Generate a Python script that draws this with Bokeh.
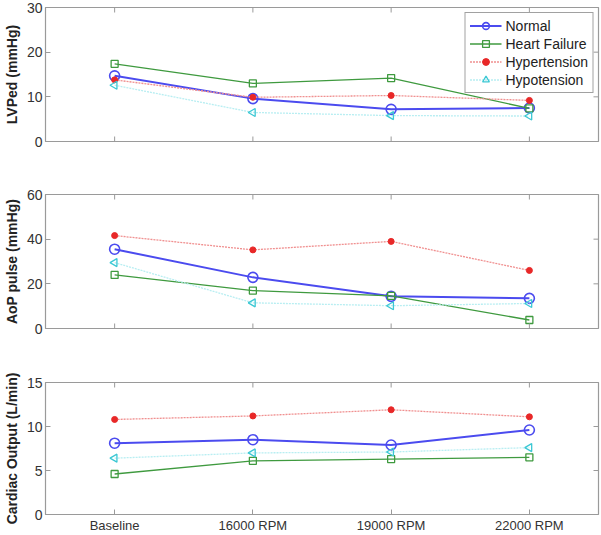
from bokeh.plotting import figure
from bokeh.models import (FactorRange, Range1d, CategoricalAxis, LinearAxis, FixedTicker,
                          Legend, LegendItem, ColumnDataSource)
from bokeh.transform import dodge
from bokeh.layouts import column
from bokeh.embed import file_html
from bokeh.resources import INLINE
import math

categories = ["Baseline", "16000 RPM", "19000 RPM", "22000 RPM"]
series_names = ["Normal", "Heart Failure", "Hypertension", "Hypotension"]

lvped_normal = [14.7, 9.6, 7.2, 7.5]
lvped_hf = [17.4, 13.0, 14.2, 7.4]
lvped_hyper = [13.8, 9.9, 10.3, 9.2]
lvped_hypo = [12.6, 6.5, 5.8, 5.7]

aop_normal = [35.5, 22.9, 14.4, 13.5]
aop_hf = [24.0, 17.0, 14.6, 3.8]
aop_hyper = [41.6, 35.2, 39.0, 26.0]
aop_hypo = [29.5, 11.5, 10.2, 11.2]

co_normal = [8.1, 8.5, 7.9, 9.6]
co_hf = [4.6, 6.1, 6.3, 6.5]
co_hyper = [10.8, 11.2, 11.9, 11.1]
co_hypo = [6.4, 7.0, 7.1, 7.6]

lvped_ticks = [0, 10, 20, 30]
aop_ticks = [0, 20, 40, 60]
co_ticks = [0, 5, 10, 15]

FONT = "Liberation Sans"
BOX = "#9a9a9a"

styles = [
    dict(line_color="#4b4bef", line_width=2.0, line_dash="solid", marker="circle",
         size=10, fill_color=None, m_color="#4b4bef", m_width=1.6),
    dict(line_color="#3f9a3f", line_width=1.3, line_dash="solid", marker="square",
         size=7, fill_color=None, m_color="#3f9a3f", m_width=1.3),
    dict(line_color="#f09090", line_width=1.3, line_dash="2 1", marker="circle",
         size=6, fill_color="#e82828", m_color="#e82828", m_width=1.0),
    dict(line_color="#b8eef2", line_width=1.3, line_dash="2 1", marker="triangle",
         size=8, fill_color=None, m_color="#3cc8d4", m_width=1.3),
]


def make_panel(data, ymax, ticks, ylabel, height, top, bottom, show_x_labels, legend=False):
    p = figure(width=601, height=height, x_range=FactorRange(*categories),
               y_range=Range1d(0, ymax), x_axis_location=None, y_axis_location=None,
               output_backend="svg", toolbar_location=None,
               min_border_left=41, min_border_right=3, min_border_top=top,
               min_border_bottom=bottom)
    p.grid.visible = False
    p.outline_line_color = BOX
    p.outline_line_width = 1.2
    p.background_fill_color = "white"
    p.border_fill_color = "white"

    items = []
    for name, vals, st in zip(series_names, data, styles):
        src = ColumnDataSource(dict(x=categories, y=vals))
        ln = p.line("x", "y", source=src, line_color=st["line_color"],
                    line_width=st["line_width"], line_dash=st["line_dash"])
        kw = {}
        if st["marker"] == "triangle":
            kw["angle"] = math.pi / 2
        sc = p.scatter("x", "y", source=src, marker=st["marker"], size=st["size"],
                       fill_color=st["fill_color"], line_color=st["m_color"],
                       line_width=st["m_width"], **kw)
        items.append(LegendItem(label=name, renderers=[ln, sc]))

    # inward tick marks on top / right (and bottom of upper panels), clipped to frame
    top_src = ColumnDataSource(dict(x=categories, y=[ymax] * len(categories)))
    p.scatter("x", "y", source=top_src, marker="dash", size=10, angle=math.pi / 2,
              line_color=BOX, line_width=1)
    if not show_x_labels:
        bot_src = ColumnDataSource(dict(x=categories, y=[0] * len(categories)))
        p.scatter("x", "y", source=bot_src, marker="dash", size=10, angle=math.pi / 2,
                  line_color=BOX, line_width=1)
    right_src = ColumnDataSource(dict(x=[categories[-1]] * len(ticks), y=ticks))
    p.scatter(dodge("x", 0.5, range=p.x_range), "y", source=right_src, marker="dash",
              size=10, line_color=BOX, line_width=1)

    left = LinearAxis(ticker=FixedTicker(ticks=ticks), axis_label=ylabel)
    axes = [left]
    if show_x_labels:
        bottom_ax = CategoricalAxis()
        axes.append(bottom_ax)
    for ax in axes:
        ax.axis_line_color = None
        ax.major_tick_in = 5
        ax.major_tick_out = 0
        ax.major_tick_line_color = BOX
        ax.minor_tick_line_color = None
        ax.major_label_text_font = FONT
        ax.major_label_text_color = "#333333"
    left.major_label_text_font_size = "14px"
    left.major_label_standoff = 3
    left.axis_label_standoff = 4
    left.axis_label_text_font = FONT
    left.axis_label_text_font_size = "14px"
    left.axis_label_text_font_style = "bold"
    left.axis_label_text_color = "#222222"
    p.add_layout(left, "left")
    if show_x_labels:
        bottom_ax.major_label_text_font_size = "13px"
        bottom_ax.major_label_standoff = 3
        p.add_layout(bottom_ax, "below")

    if legend:
        lg = Legend(items=items, location="top_right", border_line_color="#444444",
                    border_line_width=1, background_fill_color="white",
                    background_fill_alpha=1.0, label_text_font=FONT,
                    label_text_font_size="14px", label_text_color="#222222",
                    glyph_width=32, glyph_height=17, label_height=17,
                    label_standoff=4, spacing=1, padding=4, margin=5)
        p.add_layout(lg, "center")
    return p


p1 = make_panel([lvped_normal, lvped_hf, lvped_hyper, lvped_hypo], 30, lvped_ticks,
                "LVPed (mmHg)", 170, 7, 29, False, legend=True)
p2 = make_panel([aop_normal, aop_hf, aop_hyper, aop_hypo], 60, aop_ticks,
                "AoP pulse (mmHg)", 180, 24, 22, False)
p3 = make_panel([co_normal, co_hf, co_hyper, co_hypo], 15, co_ticks,
                "Cardiac Output (L/min)", 185, 32, 19, True)

layout = column(p1, p2, p3, spacing=0)

open("out.html", "w").write(file_html(layout, INLINE))
